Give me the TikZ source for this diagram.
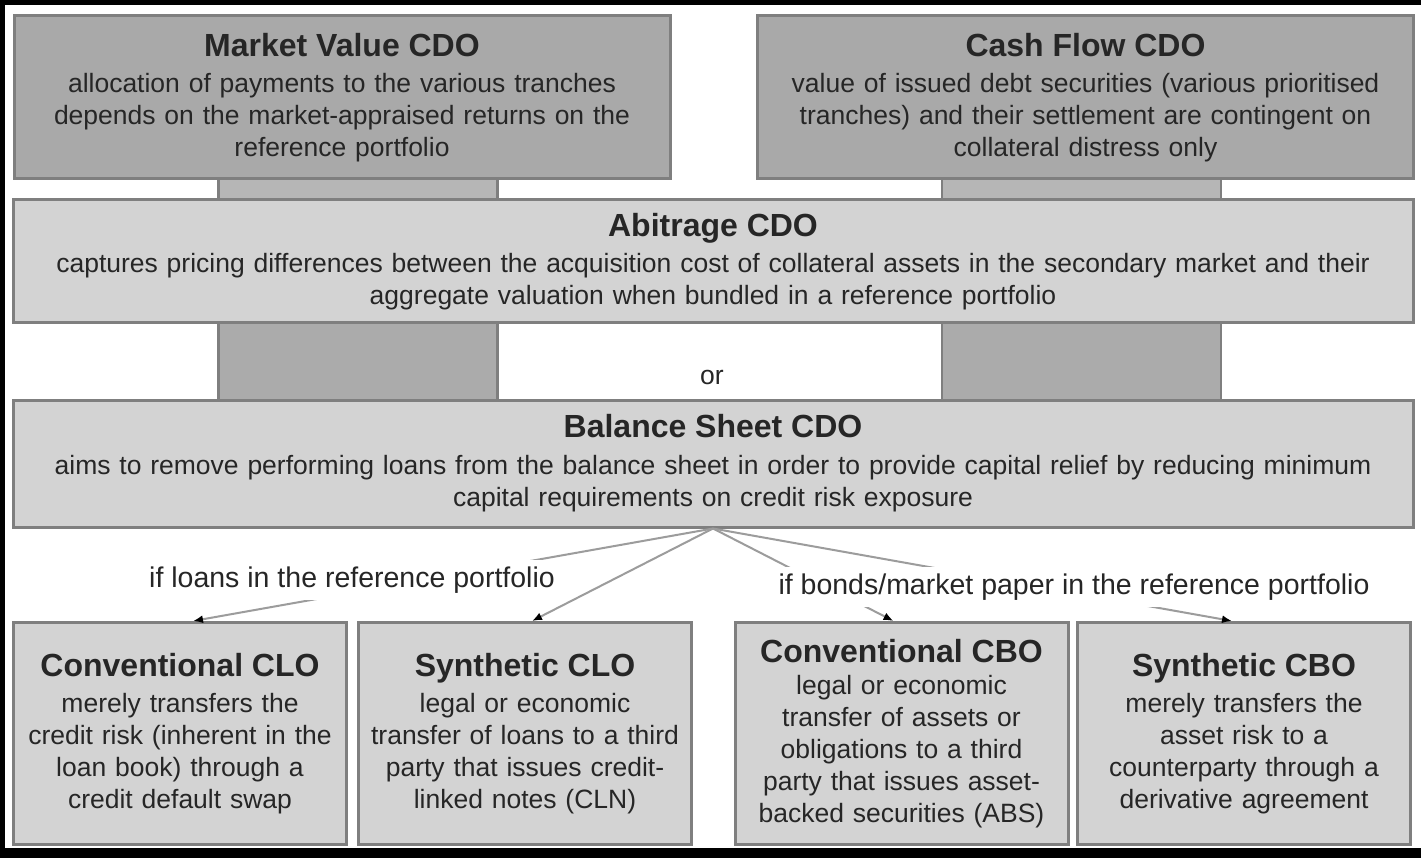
\documentclass[tikz,border=0pt]{standalone}
\usepackage{fontspec}
\setmainfont{Liberation Sans}
\usetikzlibrary{positioning,arrows.meta}
\definecolor{boxdark}{HTML}{A9A9A9}
\definecolor{boxlight}{HTML}{D3D3D3}
\definecolor{boxedge}{HTML}{7F7F7F}
\definecolor{linktop}{HTML}{B6B6B6}
\definecolor{linkmid}{HTML}{ABABAB}
\definecolor{feedgray}{HTML}{9C9C9C}
\newcommand{\desc}{\fontsize{26.5}{32}\selectfont}
\newcommand{\ttl}[1]{{\fontsize{32}{38}\selectfont\bfseries #1}}
\begin{document}
\begin{tikzpicture}[x=1pt, y=-1pt,
    cdobox/.style={rectangle, draw=boxedge, line width=3pt, inner sep=0pt, align=center, text=black!85, font=\desc},
    topbox/.style={cdobox, fill=boxdark, minimum width=656pt, minimum height=163pt, text width=640pt},
    widebox/.style={cdobox, fill=boxlight, minimum width=1400pt, text width=1390pt},
    subbox/.style={cdobox, fill=boxlight, minimum width=333pt, minimum height=222pt, text width=322pt},
    linkbox/.style={rectangle, draw=boxedge, line width=2.5pt, minimum width=279pt, inner sep=0pt},
    caselabel/.style={fill=white, inner xsep=4pt, inner ysep=7pt, text=black!85, font=\fontsize{28.5}{34}\selectfont},
    feed/.style={draw=feedgray, line width=2pt, -{Latex[length=10pt, width=8pt, color=black]}}]
        \fill[white] (0,0) rectangle (1421,858);
        \fill[black] (0,0) rectangle (1421,5);
        \fill[black] (0,848) rectangle (1421,858);
        \fill[black] (0,0) rectangle (5,858);
        \useasboundingbox (0,0) rectangle (1421,858);

        % Links
        \node[linkbox, fill=linktop, minimum height=21pt] (linkA) at (358,189.5) {};
        \node[linkbox, fill=linktop, minimum height=21pt] (linkB) at (1081.5,189.5) {};
        \node[linkbox, fill=linkmid, minimum height=77pt] (linkC) at (358,361.5) {};
        \node[linkbox, fill=linkmid, minimum height=77pt] (linkD) at (1081.5,361.5) {};

        % Market value
        \node[topbox] (market) at (342,97.5) {\ttl{Market Value CDO}\\[4pt]allocation of payments to the various tranches\\depends on the market-appraised returns on the\\reference portfolio};

        % Cash flow
        \node[topbox] (cashflow) at (1085.5,97.5) {\ttl{Cash Flow CDO}\\[4pt]value of issued debt securities (various prioritised\\tranches) and their settlement are contingent on\\collateral distress only};

        % Arbitrage
        \node[widebox, minimum height=123pt] (abitrage) at (713,261.5) {\ttl{Abitrage CDO}\\[4pt]captures pricing differences between the acquisition cost of collateral assets in the secondary market and their\\aggregate valuation when bundled in a reference portfolio};

        % Or
        \node[text=black!85, font=\desc] (or) at (712,377) {or};

        % Balance sheet
        \node[widebox, minimum height=127pt] (balance) at (713,463.5) {\ttl{Balance Sheet CDO}\\[5pt]aims to remove performing loans from the balance sheet in order to provide capital relief by reducing minimum\\capital requirements on credit risk exposure};

        % Sub types
        \node[subbox] (convclo) at (180,733.5) {\ttl{Conventional CLO}\\[4pt]merely transfers the\\credit risk (inherent in the\\loan book) through a\\credit default swap};
        \node[subbox] (synclo) at (525,733.5) {\ttl{Synthetic CLO}\\[4pt]legal or economic\\transfer of loans to a third\\party that issues credit-\\linked notes (CLN)};
        \node[subbox] (convcbo) at (901.5,733.5) {\ttl{Conventional CBO}\\legal or economic\\transfer of assets or\\obligations to a third\\party that issues asset-\\backed securities (ABS)};
        \node[subbox] (syncbo) at (1244,733.5) {\ttl{Synthetic CBO}\\[4pt]merely transfers the\\asset risk to a\\counterparty through a\\derivative agreement};

        % Connections
        \draw[feed] (balance.south) -- ([xshift=13pt]convclo.north);
        \draw[feed] (balance.south) -- ([xshift=7pt]synclo.north);
        \draw[feed] (balance.south) -- ([xshift=-8pt]convcbo.north);
        \draw[feed] (balance.south) -- ([xshift=-12pt]syncbo.north);

        % Cases
        \node[caselabel] (loans) at (352,580) {if loans in the reference portfolio};
        \node[caselabel] (bonds) at (1074,587) {if bonds/market paper in the reference portfolio};
    \end{tikzpicture}
\end{document}
